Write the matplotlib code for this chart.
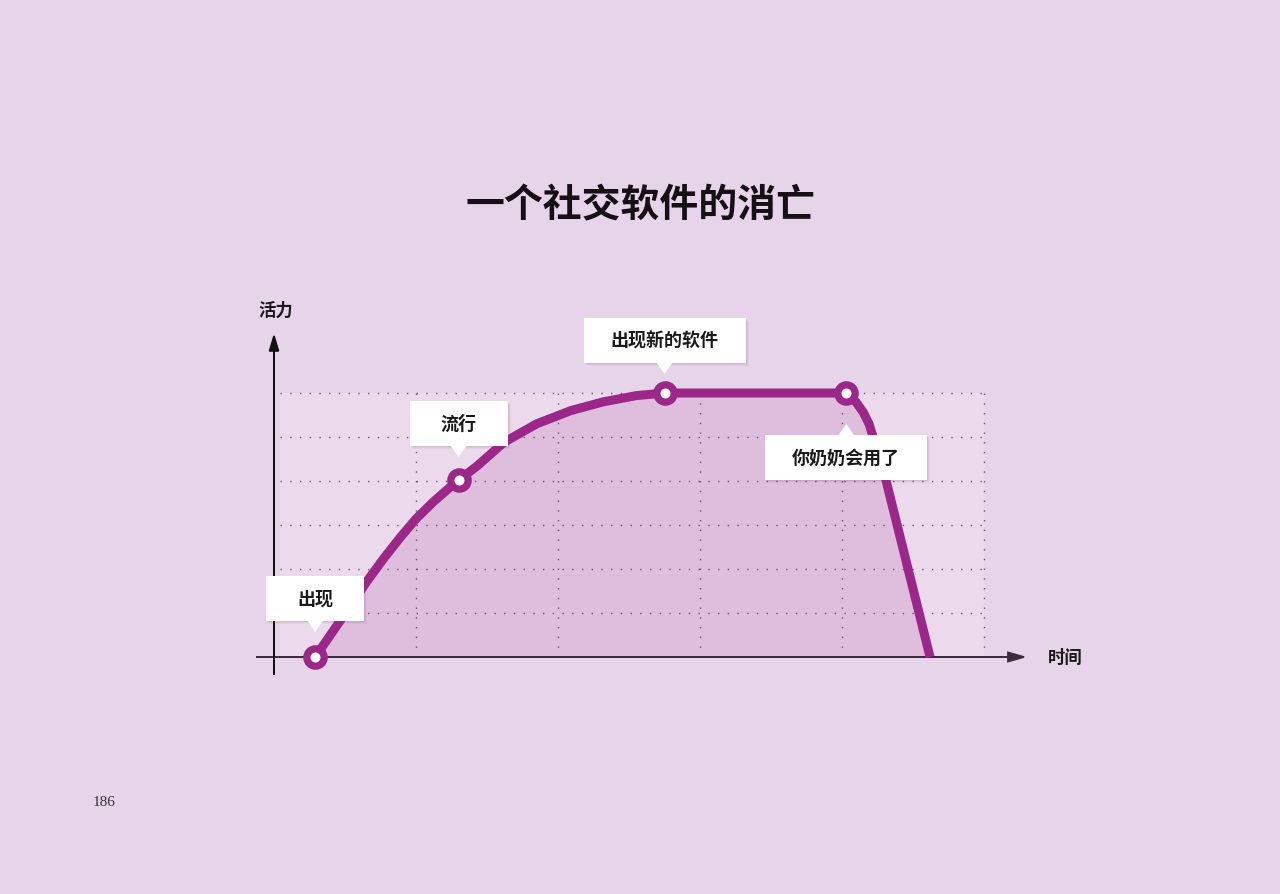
import matplotlib
matplotlib.use("Agg")
import matplotlib.pyplot as plt
from matplotlib.patches import Rectangle, FancyArrow

plt.rcParams['font.family'] = ['Noto Sans CJK SC', 'DejaVu Sans']

# ---------------- data ----------------
title = "一个社交软件的消亡"
y_label = "活力"
x_label = "时间"
page_number = "186"

curve_x = [0.29, 0.41, 0.54, 0.65, 0.77, 0.89, 1.00, 1.12, 1.24, 1.30, 1.43, 1.62,
           1.85, 2.09, 2.32, 2.55, 2.75, 4.03, 4.10, 4.15, 4.19, 4.22, 4.26, 4.29, 4.62]
curve_y = [0.00, 0.56, 1.17, 1.70, 2.23, 2.72, 3.14, 3.52, 3.86, 4.02, 4.34, 4.88,
           5.30, 5.60, 5.80, 5.94, 6.00, 6.00, 5.79, 5.56, 5.30, 4.99, 4.65, 4.27, 0.00]

stage_x = [0.29, 1.30, 2.75, 4.03]
stage_y = [0.00, 4.02, 6.00, 6.00]
stage_labels = ["出现", "流行", "出现新的软件", "你奶奶会用了"]

grid_x = [1, 2, 3, 4, 5]
grid_y = [1, 2, 3, 4, 5, 6]

# ---------------- style ----------------
BG = "#e6d5e8"
GRID_BG = "#eadaec"
FILL = "#dfbddc"
LINE = "#9b2788"
AXIS = "#3b2d3b"
PX_X = 142.0   # pixels per x unit
PX_Y = 44.0    # pixels per y unit
W, H = 1280, 895
ORIGIN_PX = (274, 658)

fig = plt.figure(figsize=(W / 100, H / 100), dpi=100, facecolor=BG)
ax = fig.add_axes([0, 0, 1, 1])
ax.set_facecolor(BG)
ax.set_xlim(-ORIGIN_PX[0] / PX_X, (W - ORIGIN_PX[0]) / PX_X)
ax.set_ylim(-(H - ORIGIN_PX[1]) / PX_Y, ORIGIN_PX[1] / PX_Y)
ax.axis("off")

def px(dx):
    return dx / PX_X

def py(dy):
    return dy / PX_Y

# grid background
gx0 = px(6)
ax.add_patch(Rectangle((gx0, 0), grid_x[-1] - gx0, grid_y[-1], facecolor=GRID_BG,
                       edgecolor="none", zorder=1))

# fill under curve
ax.fill_between(curve_x, curve_y, 0, color=FILL, zorder=2, linewidth=0)

# dotted grid
for gy in grid_y:
    ax.plot([gx0, grid_x[-1]], [gy, gy], color="#4a3a4a", lw=1.0,
            linestyle=(0, (1, 6)), zorder=3, alpha=0.8)
for gxv in grid_x:
    ax.plot([gxv, gxv], [0, grid_y[-1]], color="#4a3a4a", lw=1.0,
            linestyle=(0, (1, 6)), zorder=3, alpha=0.8)

# axes with arrows
ax.add_patch(FancyArrow(px(-18), 0, px(768), 0, width=0,
                        head_width=py(9), head_length=px(16), length_includes_head=True,
                        color=AXIS, lw=1.3, zorder=4))
ax.add_patch(FancyArrow(0, py(-18), 0, py(339), width=0,
                        head_width=px(9), head_length=py(15), length_includes_head=True,
                        color="#111111", lw=1.2, zorder=4))

# curve
ax.plot(curve_x, curve_y, color=LINE, lw=6.5, solid_joinstyle="round",
        solid_capstyle="butt", zorder=5)
ax.plot(stage_x, stage_y, linestyle="none", marker="o", ms=12.5, mew=5.2,
        mfc="white", mec=LINE, zorder=7)

# callouts
label_dy = [36, 34, 30, -42]   # pixels between point and box edge
box_h = 45
for sx, sy, lab, dy in zip(stage_x, stage_y, stage_labels, label_dy):
    bw = len(lab) * 16 + 66
    if dy > 0:
        y0 = sy + py(dy)
        tip = sy + py(dy - 11)
        tri = [(sx - px(8), y0 + py(0.5)), (sx + px(8), y0 + py(0.5)), (sx, tip)]
    else:
        y0 = sy + py(dy) - py(box_h)
        tip = sy + py(dy + 11)
        tri = [(sx - px(8), y0 + py(box_h - 0.5)), (sx + px(8), y0 + py(box_h - 0.5)), (sx, tip)]
    # shadow
    for k, a in [(3, 0.05), (2, 0.07), (1, 0.09)]:
        ax.add_patch(Rectangle((sx - px(bw / 2) + px(k), y0 - py(k)), px(bw), py(box_h),
                               facecolor="#6b4a6b", alpha=a, edgecolor="none", zorder=8))
    ax.add_patch(Rectangle((sx - px(bw / 2), y0), px(bw), py(box_h), facecolor="white",
                           edgecolor="none", zorder=9))
    ax.add_patch(plt.Polygon(tri, closed=True, facecolor="white", edgecolor="none", zorder=9))
    ax.text(sx, y0 + py(box_h / 2), lab, ha="center", va="center", fontsize=13,
            fontweight="bold", color="#1a1a1a", zorder=10)

# axis labels
ax.text(px(2), py(347), y_label, ha="center", va="center", fontsize=12.5,
        fontweight="bold", color="#1a1a1a")
ax.text(px(791), 0, x_label, ha="center", va="center", fontsize=12.5,
        fontweight="bold", color="#1a1a1a")

# title and page number
fig.text(0.5, 1 - 206 / H, title, ha="center", va="center", fontsize=28,
         fontweight="bold", color="#141014")
fig.text(104 / W, 1 - 802 / H, page_number, ha="center", va="center", fontsize=11,
         family="Liberation Serif", color="#333333")

fig.savefig("out.png", dpi=100, facecolor=BG)
